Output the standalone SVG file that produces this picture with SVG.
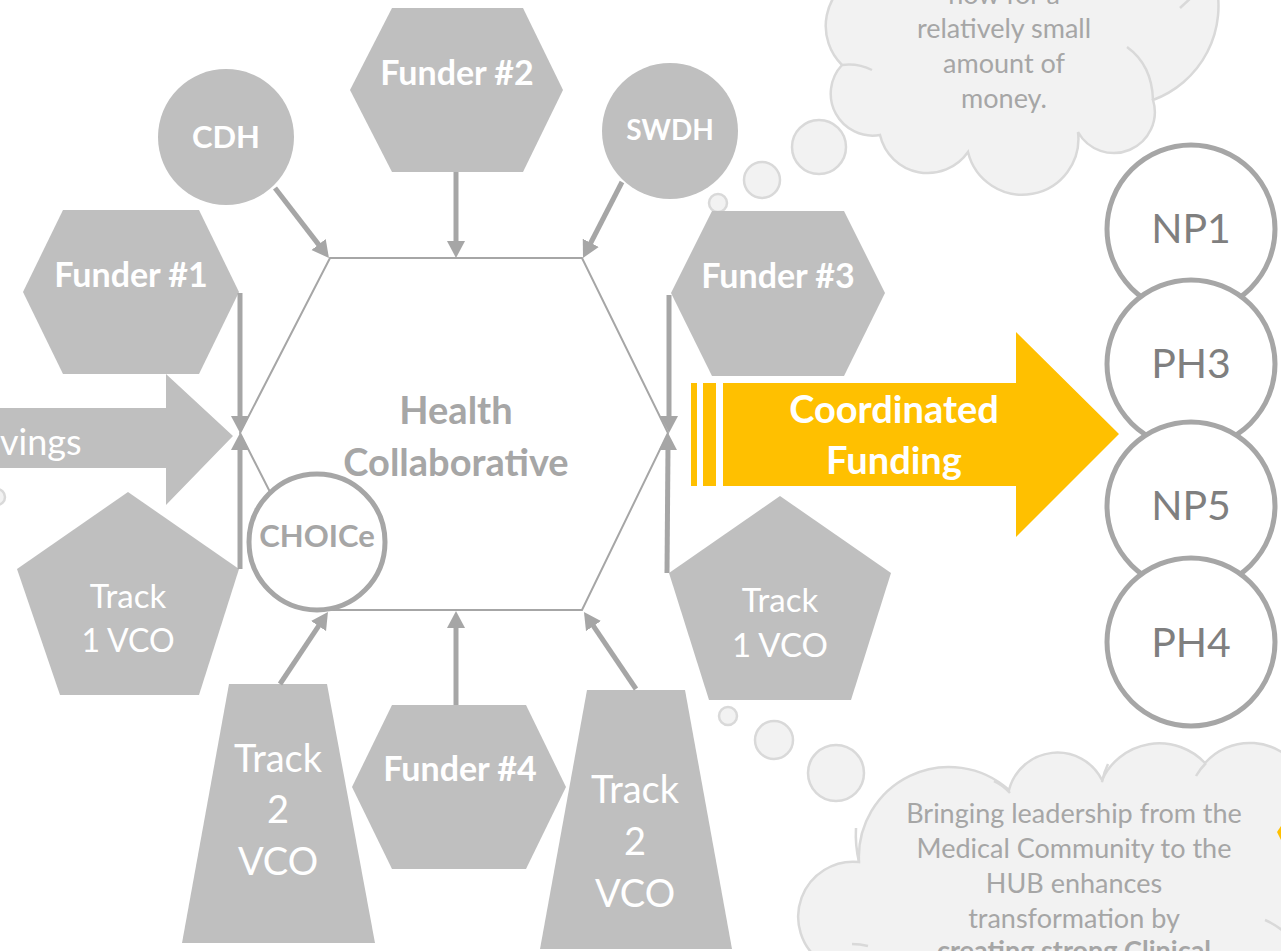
<svg xmlns="http://www.w3.org/2000/svg" width="1281" height="951" viewBox="0 0 1281 951">
<style>
text{font-family:Lato,"Open Sans","Liberation Sans",sans-serif;text-anchor:middle}
.shape{fill:#bfbfbf}
.wb{fill:#ffffff;font-weight:bold}
.wr{fill:#ffffff}
.gb{fill:#a6a6a6;font-weight:bold}
.cloud{fill:#f2f2f2;stroke:#d9d9d9;stroke-width:2.5}
.cl{fill:none;stroke:#d9d9d9;stroke-width:2.5}
.ct{fill:#a6a6a6;font-size:27px}
.np{fill:#ffffff;stroke:#a6a6a6;stroke-width:5}
.npt{fill:#7f7f7f;font-size:41px}
.conn{stroke:#a6a6a6;stroke-width:5;fill:none;marker-end:url(#ah)}
</style>
<defs>
<marker id="ah" markerUnits="userSpaceOnUse" markerWidth="20" markerHeight="20" viewBox="0 -10 20 20" refX="3" refY="0" orient="auto">
<path d="M0,-9 L17,0 L0,9 z" fill="#a6a6a6"/>
</marker>
</defs>

<!-- thought clouds -->
<g id="cloud-top">
<path class="cloud" d="M860,-25 A55,55 0 0,0 842,65 A42,42 0 0,0 880,135 A49,49 0 0,0 968,152 A56,56 0 0,0 1078,132 A41,41 0 0,0 1153,100 A100,100 0 0,0 1215,-20 Z"/>
<path class="cl" d="M842,65 Q858,63 872,70"/>
<path class="cl" d="M1127,47 Q1152,65 1153,100"/>
<path class="cl" d="M1180,8 L1193,-4"/>
<circle class="cloud" cx="819" cy="147" r="27"/>
<circle class="cloud" cx="762" cy="180" r="18"/>
<circle class="cloud" cx="718" cy="203" r="9"/>
<text class="ct" x="1004" y="4">now for a</text>
<text class="ct" x="1004" y="38">relatively small</text>
<text class="ct" x="1004" y="73">amount of</text>
<text class="ct" x="1004" y="108">money.</text>
</g>

<g id="cloud-bottom">
<path class="cloud" d="M822,962 A55,55 0 0,1 859,862 A90,90 0 0,1 1009,790 A50,50 0 0,1 1102,780 A63,63 0 0,1 1205,763 A60,60 0 0,1 1300,770 L1300,962 Z"/>
<path class="cl" d="M859,862 Q855,845 856,828"/>
<path class="cl" d="M994,781 Q1003,785 1010,793"/>
<path class="cl" d="M1102,782 Q1104,772 1108,764"/>
<path class="cl" d="M1196,776 Q1200,769 1206,763"/>
<path class="cl" d="M852,944 Q860,944 868,946"/>
<path class="cl" d="M1265,920 Q1275,924 1284,932"/>
<circle class="cloud" cx="728" cy="716" r="9"/>
<circle class="cloud" cx="774" cy="740" r="19"/>
<circle class="cloud" cx="836" cy="773" r="28"/>
<text class="ct" x="1074" y="823">Bringing leadership from the</text>
<text class="ct" x="1074" y="858">Medical Community to the</text>
<text class="ct" x="1074" y="893">HUB enhances</text>
<text class="ct" x="1074" y="928">transformation by</text>
<text class="ct" x="1074" y="960" font-weight="bold">creating strong Clinical</text>
</g>

<circle class="cloud" cx="-3" cy="497" r="8"/>
<polygon points="1277,832 1281,826 1281,840" fill="#ffc000"/>

<!-- savings arrow -->
<g id="savings">
<polygon class="shape" points="-5,408 166,408 166,374 233,436 166,505 166,468 -5,468"/>
<text class="wr" x="0" y="455" font-size="36" style="text-anchor:start">vings</text>
</g>

<!-- central hub -->
<g id="hub">
<polygon points="330,258 582,258 668,433 582,610 330,610 240,433" fill="none" stroke="#a6a6a6" stroke-width="2"/>
<text class="gb" x="456" y="424" font-size="38">Health</text>
<text class="gb" x="456" y="476" font-size="38">Collaborative</text>
</g>

<g id="funder2">
<polygon class="shape" points="392,8 523,8 563,90 523,172 392,172 350,90"/>
<text class="wb" x="457" y="85" font-size="34">Funder #2</text>
</g>
<g id="cdh">
<circle class="shape" cx="226" cy="137" r="68"/>
<text class="wb" x="226" y="148" font-size="31">CDH</text>
</g>
<g id="swdh">
<circle class="shape" cx="670" cy="131" r="68"/>
<text class="wb" x="670" y="140" font-size="28">SWDH</text>
</g>
<g id="funder1">
<polygon class="shape" points="63,210 199,210 239,292 199,374 63,374 23,292"/>
<text class="wb" x="131" y="287" font-size="34">Funder #1</text>
</g>
<g id="funder3">
<polygon class="shape" points="712,211 844,211 885,293 844,376 712,376 671,293"/>
<text class="wb" x="778" y="288" font-size="34">Funder #3</text>
</g>
<g id="track1-left">
<polygon class="shape" points="128,492 239,569 199,695 60,695 17,569"/>
<text class="wr" x="128" y="608" font-size="33">Track</text>
<text class="wr" x="128" y="652" font-size="32">1 VCO</text>
</g>
<g id="track1-right">
<polygon class="shape" points="780,496 891,573 851,700 709,700 669,573"/>
<text class="wr" x="780" y="612" font-size="33">Track</text>
<text class="wr" x="780" y="657" font-size="33">1 VCO</text>
</g>
<g id="choice">
<circle cx="317" cy="542" r="68" fill="#ffffff" stroke="#a6a6a6" stroke-width="5"/>
<text class="gb" x="317" y="547" font-size="31">CHOICe</text>
</g>
<g id="track2-left">
<polygon class="shape" points="229,684 327,684 375,943 182,943"/>
<text class="wr" x="278" y="772" font-size="38">Track</text>
<text class="wr" x="278" y="823" font-size="38">2</text>
<text class="wr" x="278" y="875" font-size="38">VCO</text>
</g>
<g id="funder4">
<polygon class="shape" points="392,705 526,705 566,787 526,869 392,869 352,787"/>
<text class="wb" x="460" y="781" font-size="34">Funder #4</text>
</g>
<g id="track2-right">
<polygon class="shape" points="587,690 685,690 732,949 540,949"/>
<text class="wr" x="635" y="803" font-size="38">Track</text>
<text class="wr" x="635" y="855" font-size="38">2</text>
<text class="wr" x="635" y="907" font-size="38">VCO</text>
</g>

<!-- coordinated funding arrow -->
<g id="coordinated-funding">
<rect x="691" y="383" width="6" height="103" fill="#ffc000"/>
<rect x="703" y="383" width="13" height="103" fill="#ffc000"/>
<polygon points="723,383 1016,383 1016,332 1119,434 1016,537 1016,486 723,486" fill="#ffc000"/>
<text class="wb" x="894" y="423" font-size="38">Coordinated</text>
<text class="wb" x="894" y="474" font-size="38">Funding</text>
</g>

<g id="np1"><circle class="np" cx="1191" cy="229" r="84"/><text class="npt" x="1191" y="243">NP1</text></g>
<g id="ph3"><circle class="np" cx="1191" cy="364" r="84"/><text class="npt" x="1191" y="378">PH3</text></g>
<g id="np5"><circle class="np" cx="1191" cy="506" r="84"/><text class="npt" x="1191" y="520">NP5</text></g>
<g id="ph4"><circle class="np" cx="1191" cy="642" r="84"/><text class="npt" x="1191" y="657">PH4</text></g>

<!-- connectors -->
<g id="connectors">
<line class="conn" x1="275" y1="188" x2="320.4" y2="246.9"/>
<line class="conn" x1="456" y1="172" x2="456" y2="244"/>
<line class="conn" x1="622" y1="182" x2="589.4" y2="245.5"/>
<line class="conn" x1="240" y1="293" x2="240" y2="419"/>
<line class="conn" x1="240" y1="569" x2="240" y2="447"/>
<line class="conn" x1="669" y1="295" x2="669" y2="419"/>
<line class="conn" x1="667" y1="573" x2="668" y2="447"/>
<line class="conn" x1="280" y1="684" x2="320.2" y2="623.6"/>
<line class="conn" x1="456" y1="705" x2="456" y2="625"/>
<line class="conn" x1="636" y1="689" x2="591.8" y2="623.6"/>
</g>
</svg>
